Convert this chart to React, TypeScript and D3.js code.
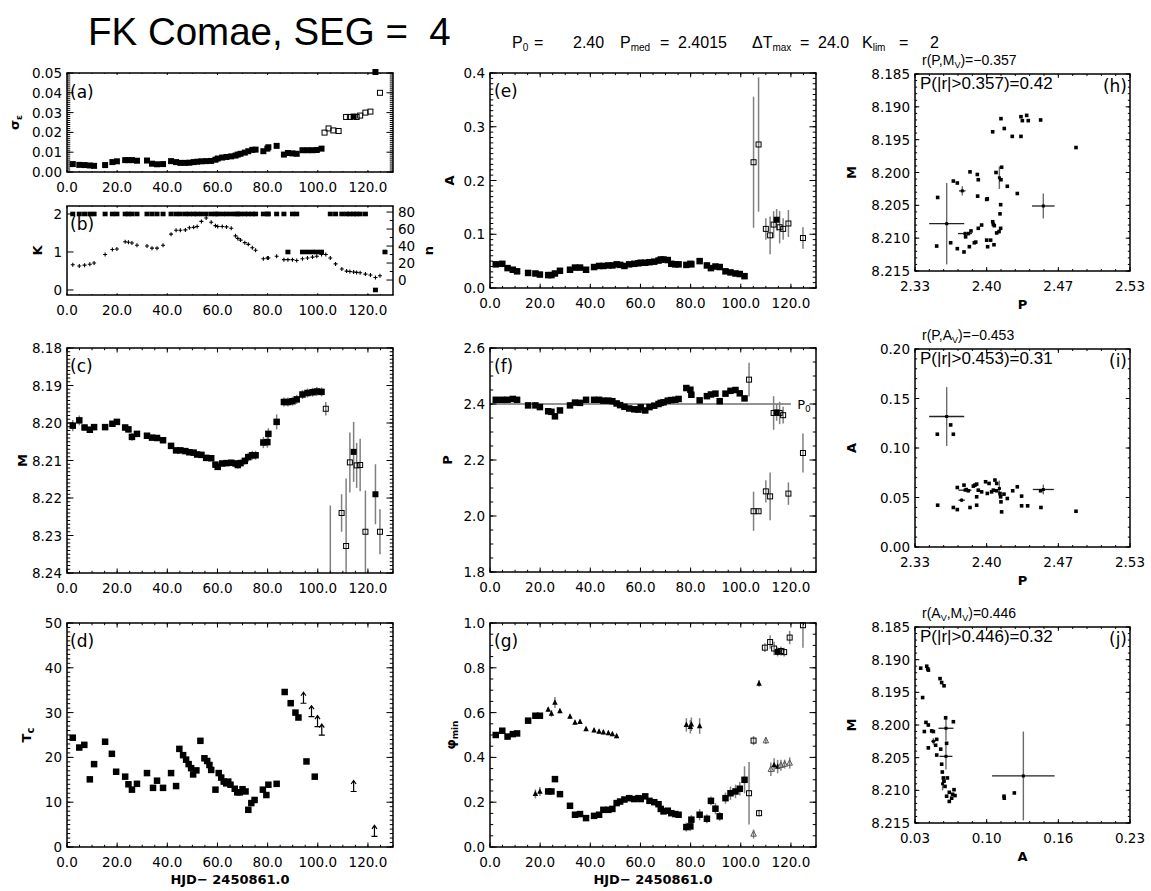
import React from "react";
import * as d3 from "d3";

// ---------------- data ----------------
const tMain = [2.3, 4.9, 7.0, 9.1, 10.8, 15.2, 18.1, 19.9, 23.2, 24.5, 25.9, 27.9, 31.9, 33.9, 35.9, 38.3, 41.5, 43.5, 45.2, 47.2, 48.8, 50.5, 51.9, 53.6, 55.5, 57.5, 59.2, 60.1, 61.9, 63.6, 65.5, 67.2, 68.1, 69.2, 70.9, 72.3, 73.9, 75.2, 78.3, 79.9, 80.3, 83.6, 86.5, 88.1, 89.9, 91.6, 93.9, 95.9, 97.9, 99.6, 101.5];

const sigmaMain = [0.0040, 0.0036, 0.0035, 0.0033, 0.0031, 0.0035, 0.0050, 0.0054, 0.0060, 0.0060, 0.0060, 0.0057, 0.0058, 0.0042, 0.0039, 0.0040, 0.0055, 0.0050, 0.0046, 0.0046, 0.0047, 0.0050, 0.0052, 0.0054, 0.0055, 0.0056, 0.0062, 0.0068, 0.0073, 0.0076, 0.0079, 0.0083, 0.0088, 0.0092, 0.0098, 0.0105, 0.0112, 0.0113, 0.0105, 0.0118, 0.0125, 0.0132, 0.0088, 0.0096, 0.0094, 0.0092, 0.0110, 0.0110, 0.0110, 0.0111, 0.0118];
// [t, sigma, filled]
const sigmaLate = [[102.7, 0.0199, 0], [104.3, 0.0220, 0], [106.2, 0.0210, 0], [108.3, 0.0207, 0], [111.3, 0.0278, 0], [112.8, 0.0278, 0], [114.3, 0.0280, 1], [115.5, 0.0278, 0], [116.9, 0.0285, 0], [119.0, 0.0300, 0], [121.0, 0.0305, 0], [123.0, 0.0505, 1], [124.8, 0.0400, 0]];

const kMain = [2, 2, 2, 2, 2, 2, 2, 2, 2, 2, 2, 2, 2, 2, 2, 2, 2, 2, 2, 2, 2, 2, 2, 2, 2, 2, 2, 2, 2, 2, 2, 2, 2, 2, 2, 2, 2, 2, 2, 2, 2, 2, 2, 1, 2, 2, 1, 1, 1, 1, 1];
const kLate = [[105.0, 2], [107.1, 2], [109.6, 2], [111.5, 2], [112.8, 2], [114.3, 2], [115.5, 2], [116.9, 2], [119.0, 2], [123.0, 0], [126.8, 1]];
const nMain = [18, 16.5, 17.5, 18.5, 20, 30, 36, 36.5, 45, 44.5, 43.5, 41, 40, 37.5, 37.5, 41, 54, 58.5, 58.5, 59, 61.5, 62, 63, 69, 73, 68, 64, 63, 63, 62.5, 61, 52, 49, 47, 44, 42, 38, 35, 25, 26, 26, 28, 24, 24, 24, 23, 25, 26, 27, 28, 30];
const nLate = [[103.2, 30], [105.0, 26], [107.1, 19], [109.6, 13], [111.5, 10.5], [112.8, 10], [114.3, 9.5], [115.5, 9], [116.9, 8.5], [119.0, 7], [121.0, 6], [123.0, 3], [124.8, 5]];

const mMain = [8.2007, 8.1993, 8.2012, 8.2018, 8.2011, 8.2011, 8.2002, 8.1997, 8.2012, 8.2017, 8.2037, 8.2029, 8.2034, 8.2039, 8.2040, 8.2046, 8.2061, 8.2073, 8.2073, 8.2075, 8.2078, 8.2079, 8.2084, 8.2085, 8.2093, 8.2094, 8.2111, 8.2117, 8.2108, 8.2107, 8.2106, 8.2108, 8.2112, 8.2107, 8.2101, 8.2091, 8.2086, 8.2086, 8.2052, 8.2051, 8.2029, 8.1997, 8.1944, 8.1944, 8.1942, 8.1937, 8.1924, 8.1920, 8.1918, 8.1916, 8.1917];
const mErr = [0.0015, 0.0013, 0.0008, 0.0008, 0.0008, 0.0007, 0.0007, 0.0007, 0.0008, 0.0008, 0.0010, 0.0008, 0.0006, 0.0006, 0.0006, 0.0006, 0.0005, 0.0005, 0.0005, 0.0005, 0.0005, 0.0005, 0.0005, 0.0005, 0.0005, 0.0005, 0.0006, 0.0006, 0.0006, 0.0006, 0.0008, 0.0008, 0.0010, 0.0010, 0.0010, 0.0012, 0.0012, 0.0012, 0.0015, 0.0015, 0.0015, 0.0020, 0.0012, 0.0012, 0.0012, 0.0012, 0.0012, 0.0012, 0.0012, 0.0012, 0.0012];
// [t, M, err, filled]
const mLate = [[103.2, 8.1962, 0.0018, 0], [105.0, 8.2500, 0.0280, 0], [109.5, 8.2240, 0.0050, 0], [111.3, 8.2328, 0.0180, 0], [112.8, 8.2105, 0.0080, 0], [114.3, 8.2077, 0.0080, 1], [115.5, 8.2113, 0.0060, 0], [116.9, 8.2112, 0.0070, 0], [119.0, 8.2290, 0.0110, 0], [123.0, 8.2190, 0.0080, 1], [124.8, 8.2290, 0.0060, 0]];

const tcT = [2.3, 4.9, 6.9, 9.1, 10.8, 15.2, 17.9, 19.6, 23.2, 24.5, 25.9, 27.9, 31.9, 34.3, 35.9, 38.3, 41.5, 43.5, 44.8, 46.3, 47.5, 48.5, 49.5, 50.3, 51.6, 53.2, 54.8, 55.9, 56.8, 57.5, 59.2, 60.5, 61.5, 62.5, 63.5, 64.3, 65.2, 66.9, 67.9, 68.9, 70.0, 71.2, 72.3, 73.5, 74.8, 78.1, 79.5, 80.3, 83.6, 86.8, 89.2, 91.1, 92.3, 95.5, 98.8];
const tcVal = [24.4, 22.2, 22.8, 15.1, 18.5, 23.5, 20.8, 16.8, 15.7, 14.0, 12.8, 14.1, 16.5, 13.2, 14.8, 13.2, 16.5, 13.6, 21.9, 20.5, 19.5, 18.5, 17.6, 16.2, 17.1, 23.7, 19.8, 19.2, 18.3, 17.2, 12.8, 16.5, 15.5, 14.6, 14.2, 14.6, 13.9, 13.0, 12.2, 12.2, 12.9, 12.4, 8.3, 9.8, 10.5, 12.8, 11.6, 13.9, 14.1, 34.6, 32.1, 30.0, 28.9, 19.1, 15.7];
const tcLimT = [94.3, 97.5, 99.9, 101.6, 114.3, 122.6];
const tcLimV = [33.2, 30.2, 28.0, 26.1, 13.5, 3.5];

const aMain = [0.044, 0.045, 0.037, 0.034, 0.031, 0.028, 0.027, 0.025, 0.024, 0.024, 0.027, 0.032, 0.034, 0.038, 0.038, 0.034, 0.039, 0.041, 0.041, 0.042, 0.042, 0.044, 0.043, 0.041, 0.044, 0.045, 0.046, 0.047, 0.047, 0.048, 0.049, 0.051, 0.053, 0.053, 0.052, 0.045, 0.044, 0.044, 0.043, 0.045, 0.044, 0.050, 0.042, 0.037, 0.040, 0.039, 0.031, 0.029, 0.027, 0.026, 0.022];
const aLate = [[105.1, 0.234, 0.122, 0], [107.1, 0.267, 0.125, 0], [110.0, 0.110, 0.020, 0], [111.7, 0.098, 0.035, 0], [113.1, 0.118, 0.025, 0], [114.3, 0.127, 0.020, 1], [115.5, 0.113, 0.030, 0], [116.9, 0.110, 0.020, 0], [119.0, 0.120, 0.025, 0], [124.8, 0.093, 0.020, 0]];

const pMain = [2.415, 2.415, 2.415, 2.418, 2.415, 2.395, 2.395, 2.389, 2.374, 2.372, 2.356, 2.377, 2.395, 2.405, 2.404, 2.415, 2.415, 2.415, 2.412, 2.412, 2.410, 2.402, 2.396, 2.390, 2.384, 2.381, 2.380, 2.388, 2.377, 2.389, 2.394, 2.400, 2.404, 2.406, 2.412, 2.414, 2.415, 2.418, 2.457, 2.451, 2.433, 2.413, 2.428, 2.434, 2.437, 2.410, 2.437, 2.447, 2.450, 2.438, 2.420];
const pLate = [[103.3, 2.487, 0.06, 0], [105.1, 2.017, 0.07, 0], [107.1, 2.017, 0.01, 0], [110.0, 2.088, 0.04, 0], [111.7, 2.070, 0.085, 0], [113.1, 2.368, 0.06, 0], [114.3, 2.370, 0.03, 1], [115.5, 2.368, 0.04, 0], [116.9, 2.360, 0.03, 0], [119.0, 2.080, 0.04, 0], [124.8, 2.225, 0.07, 0]];
const P0 = 2.40;

const phiMain = [0.500, 0.519, 0.493, 0.504, 0.507, 0.564, 0.586, 0.586, 0.248, 0.248, 0.303, 0.236, 0.184, 0.144, 0.147, 0.129, 0.139, 0.144, 0.166, 0.166, 0.170, 0.196, 0.203, 0.212, 0.218, 0.214, 0.218, 0.214, 0.226, 0.206, 0.200, 0.191, 0.170, 0.159, 0.162, 0.151, 0.147, 0.144, 0.089, 0.092, 0.122, 0.144, 0.126, 0.206, 0.171, 0.137, 0.218, 0.240, 0.248, 0.260, 0.300];
const phiErr = [0.005, 0.005, 0.005, 0.005, 0.005, 0.005, 0.005, 0.005, 0.01, 0.01, 0.01, 0.005, 0.005, 0.005, 0.005, 0.005, 0.005, 0.005, 0.005, 0.005, 0.005, 0.005, 0.005, 0.005, 0.005, 0.005, 0.005, 0.005, 0.005, 0.005, 0.005, 0.005, 0.005, 0.005, 0.01, 0.01, 0.01, 0.01, 0.02, 0.02, 0.02, 0.025, 0.02, 0.02, 0.025, 0.02, 0.025, 0.03, 0.03, 0.03, 0.06];
// secondary minimum: [t, phi, err, filled]
const phiTri = [[18.1, 0.237, 0.02, 1], [19.9, 0.248, 0.02, 1], [23.2, 0.614, 0.01, 1], [24.5, 0.596, 0.015, 1], [25.9, 0.645, 0.025, 1], [27.9, 0.607, 0.01, 1], [31.9, 0.582, 0.01, 1], [33.9, 0.556, 0.01, 1], [35.9, 0.559, 0.01, 1], [38.3, 0.527, 0.01, 1], [41.5, 0.521, 0.01, 1], [43.5, 0.515, 0.01, 1], [45.2, 0.512, 0.01, 1], [47.2, 0.509, 0.01, 1], [48.8, 0.504, 0.01, 1], [50.5, 0.495, 0.01, 1], [78.3, 0.545, 0.03, 1], [79.9, 0.537, 0.03, 1], [80.3, 0.548, 0.03, 1], [83.6, 0.540, 0.035, 1], [105.1, 0.058, 0.02, 0], [107.3, 0.730, 0.015, 1], [110.0, 0.475, 0.015, 0], [112.0, 0.347, 0.03, 0], [113.3, 0.366, 0.03, 1], [114.7, 0.359, 0.03, 1], [116.0, 0.365, 0.025, 0], [117.5, 0.370, 0.02, 0], [119.5, 0.375, 0.025, 0]];
const phiLate = [[103.3, 0.24, 0.14, 0], [105.1, 0.475, 0.02, 0], [107.3, 0.151, 0.015, 0], [109.6, 0.89, 0.02, 0], [111.7, 0.915, 0.03, 0], [113.3, 0.886, 0.03, 0], [114.7, 0.871, 0.02, 1], [116.0, 0.875, 0.02, 0], [117.3, 0.870, 0.02, 0], [119.5, 0.935, 0.03, 0], [124.8, 0.99, 0.1, 0]];

// scatter panels
const hPts = [[2.3544, 8.2038], [2.3535, 8.2112], [2.3690, 8.2013], [2.3727, 8.2016], [2.3665, 8.2107], [2.3727, 8.2116], [2.3789, 8.2121], [2.3804, 8.2098], [2.3829, 8.2093], [2.3839, 8.2113], [2.3854, 8.2089], [2.3885, 8.2107], [2.3898, 8.2106], [2.3845, 8.1999], [2.3913, 8.2003], [2.3922, 8.2011], [2.3922, 8.2085], [2.3953, 8.2080], [2.3916, 8.2036], [2.4000, 8.2041], [2.4006, 8.2040], [2.4000, 8.2103], [2.4037, 8.2103], [2.4009, 8.2113], [2.4068, 8.2110], [2.4056, 8.2075], [2.4062, 8.2079], [2.4071, 8.2081], [2.4093, 8.2092], [2.4115, 8.2090], [2.4130, 8.2085], [2.4124, 8.2063], [2.4130, 8.2049], [2.4087, 8.2000], [2.4133, 8.2011], [2.4139, 8.1992], [2.4192, 8.2021], [2.4285, 8.2032], [2.4056, 8.1938], [2.4133, 8.1918], [2.4164, 8.1933], [2.4238, 8.1945], [2.4319, 8.1945], [2.4319, 8.1915], [2.4332, 8.1921], [2.4372, 8.1913], [2.4387, 8.1921], [2.4502, 8.1920], [2.4831, 8.1962]];
const hCross = [[2.3628, 8.2078, 0.0163, 0.0062], [2.3773, 8.2028, 0.0030, 0.0007], [2.3798, 8.2093, 0.0065, 0.0003], [2.4118, 8.2008, 0.0010, 0.0017], [2.4527, 8.2051, 0.0105, 0.0019]];

const iPts = [[2.3544, 0.0422], [2.3541, 0.1139], [2.3665, 0.1233], [2.3690, 0.1139], [2.3690, 0.0399], [2.3727, 0.0378], [2.3727, 0.0601], [2.3789, 0.0625], [2.3810, 0.0580], [2.3829, 0.0568], [2.3845, 0.0399], [2.3876, 0.0615], [2.3891, 0.0625], [2.3907, 0.0635], [2.3907, 0.0507], [2.3907, 0.0422], [2.3922, 0.0574], [2.3953, 0.0557], [2.3990, 0.0659], [2.4022, 0.0642], [2.4006, 0.0541], [2.4046, 0.0557], [2.4062, 0.0574], [2.4077, 0.0676], [2.4093, 0.0642], [2.4093, 0.0568], [2.4124, 0.0541], [2.4130, 0.0507], [2.4133, 0.0456], [2.4139, 0.0355], [2.4161, 0.0534], [2.4192, 0.0490], [2.4242, 0.0568], [2.4285, 0.0608], [2.4325, 0.0514], [2.4325, 0.0416], [2.4381, 0.0416], [2.4502, 0.0568], [2.4505, 0.0399], [2.4831, 0.0361]];
const iCross = [[2.3628, 0.1318, 0.0163, 0.0297], [2.3767, 0.0473, 0.0030, 0.0020], [2.3798, 0.0574, 0.0060, 0.0010], [2.4118, 0.0591, 0.0010, 0.0080], [2.4527, 0.0581, 0.0098, 0.0050]];

const jPts = [[0.0353, 8.1913], [0.0371, 8.1958], [0.0409, 8.1910], [0.0418, 8.1914], [0.0425, 8.1916], [0.0387, 8.2010], [0.0402, 8.1996], [0.0424, 8.2000], [0.0424, 8.2035], [0.0455, 8.2009], [0.0471, 8.2010], [0.0492, 8.2031], [0.0502, 8.2022], [0.0502, 8.2046], [0.0533, 8.1929], [0.0548, 8.1935], [0.0570, 8.1940], [0.0539, 8.2037], [0.0548, 8.2060], [0.0554, 8.2072], [0.0564, 8.2081], [0.0570, 8.2086], [0.0579, 8.2094], [0.0585, 8.1989], [0.0594, 8.2028], [0.0601, 8.2081], [0.0594, 8.2109], [0.0619, 8.2103], [0.0641, 8.2112], [0.0650, 8.2106], [0.0663, 8.2099], [0.0672, 8.2108], [0.0657, 8.1995], [0.0619, 8.2117], [0.1128, 8.2109], [0.1130, 8.2112], [0.1224, 8.2104]];
const jCross = [[0.1308, 8.2078, 0.0291, 0.0068], [0.0471, 8.2025, 0.0020, 0.0005], [0.0557, 8.2090, 0.0010, 0.0010], [0.0588, 8.2005, 0.0070, 0.0019], [0.0588, 8.2048, 0.0060, 0.0020]];

const xMajorT = [0, 20, 40, 60, 80, 100, 120];
const corrText = [
  { r: "−0.357", p: "0.357", q: "0.42" },
  { r: "−0.453", p: "0.453", q: "0.31" },
  { r: "0.446", p: "0.446", q: "0.32" },
];

// ---------------- layout / helpers ----------------
const FONT = "'DejaVu Sans', Verdana, sans-serif";
const HEL = "'Liberation Sans', Arial, Helvetica, sans-serif";
const EC = "#808080";

type Box = { l: number; r: number; t: number; b: number };
const BOX: Record<string, Box> = {
  a: { l: 67, r: 393, t: 73, b: 172 },
  b: { l: 67, r: 393, t: 206, b: 295 },
  c: { l: 67, r: 393, t: 348, b: 573 },
  d: { l: 67, r: 393, t: 623, b: 847 },
  e: { l: 490, r: 816, t: 73, b: 288 },
  f: { l: 490, r: 816, t: 348, b: 572 },
  g: { l: 490, r: 816, t: 623, b: 847 },
  h: { l: 915, r: 1130, t: 74, b: 271 },
  i: { l: 915, r: 1130, t: 349, b: 547 },
  j: { l: 915, r: 1130, t: 627, b: 823 },
};

const steps = (a: number, b: number, n: number) => d3.range(n + 1).map((i) => a + ((b - a) * i) / n);

type Sc = d3.ScaleLinear<number, number>;

function Frame(props: {
  bx: Box; x: Sc; y: Sc; xMaj: number[]; xMin: number[]; yMaj: number[]; yMin: number[];
  xFmt: (v: number) => string; yFmt: (v: number) => string; rightTicks?: boolean;
}) {
  const { bx, x, y, xMaj, xMin, yMaj, yMin, xFmt, yFmt } = props;
  const rightTicks = props.rightTicks !== false;
  const tx = 0.02 * (bx.b - bx.t);
  const ty = 0.02 * (bx.r - bx.l);
  let d = "";
  const vt = (v: number, len: number) => {
    const px = x(v);
    d += `M${px},${bx.b}v${-len}M${px},${bx.t}v${len}`;
  };
  const ht = (v: number, len: number) => {
    const py = y(v);
    d += `M${bx.l},${py}h${len}`;
    if (rightTicks) d += `M${bx.r},${py}h${-len}`;
  };
  xMaj.forEach((v) => vt(v, tx));
  xMin.forEach((v) => vt(v, tx / 2));
  yMaj.forEach((v) => ht(v, ty));
  yMin.forEach((v) => ht(v, ty / 2));
  return (
    <g>
      <path d={d} stroke="#000" strokeWidth={1} fill="none" />
      <rect x={bx.l} y={bx.t} width={bx.r - bx.l} height={bx.b - bx.t} fill="none" stroke="#000" strokeWidth={1.5} />
      {xMaj.map((v, i) => (
        <text key={"xl" + i} x={x(v)} y={bx.b + 20} textAnchor="middle" fontFamily={FONT} fontSize={13.5}>{xFmt(v)}</text>
      ))}
      {yMaj.map((v, i) => (
        <text key={"yl" + i} x={bx.l - 5} y={y(v) + 5} textAnchor="end" fontFamily={FONT} fontSize={13.5}>{yFmt(v)}</text>
      ))}
    </g>
  );
}

const Sq = ({ cx, cy, s, filled }: { cx: number; cy: number; s: number; filled: boolean }) =>
  filled ? (
    <rect x={cx - s / 2} y={cy - s / 2} width={s} height={s} fill="#000" />
  ) : (
    <rect x={cx - s / 2 + 0.5} y={cy - s / 2 + 0.5} width={s - 1} height={s - 1} fill="none" stroke="#000" strokeWidth={1} />
  );

const Tri = ({ cx, cy, s, filled }: { cx: number; cy: number; s: number; filled: boolean }) => (
  <path d={`M${cx},${cy - s * 0.6}L${cx + s / 2},${cy + s * 0.4}L${cx - s / 2},${cy + s * 0.4}Z`} fill={filled ? "#000" : "none"} stroke={filled ? "none" : "#555"} strokeWidth={1} />
);

const ErrV = ({ cx, y1, y2, c }: { cx: number; y1: number; y2: number; c?: string }) => (
  <line x1={cx} x2={cx} y1={y1} y2={y2} stroke={c || EC} strokeWidth={1.5} />
);

const Clip = ({ id, bx }: { id: string; bx: Box }) => (
  <clipPath id={id}>
    <rect x={bx.l} y={bx.t} width={bx.r - bx.l} height={bx.b - bx.t} />
  </clipPath>
);

const YTitle = ({ x, y, children }: { x: number; y: number; children: any }) => (
  <text transform={`translate(${x},${y}) rotate(-90)`} textAnchor="middle" fontFamily={FONT} fontWeight="bold" fontSize={13}>{children}</text>
);

const PanelTag = ({ x, y, s, end }: { x: number; y: number; s: string; end?: boolean }) => (
  <text x={x} y={y} fontFamily={FONT} fontSize={17} textAnchor={end ? "end" : "start"}>{s}</text>
);

// ---------------- app ----------------
export default function App() {
  const f1 = d3.format(".1f");
  const f2 = d3.format(".2f");
  const f3 = d3.format(".3f");
  const fd = d3.format("d");

  const xL = d3.scaleLinear().domain([0, 130]).range([BOX.a.l, BOX.a.r]);
  const xM = d3.scaleLinear().domain([0, 130]).range([BOX.e.l, BOX.e.r]);
  const xMinorT = d3.range(0, 130.001, 5);

  const ya = d3.scaleLinear().domain([0, 0.05]).range([BOX.a.b, BOX.a.t]);
  const yK = d3.scaleLinear().domain([-0.132, 2.21]).range([BOX.b.b, BOX.b.t]);
  const yN = d3.scaleLinear().domain([-17.6, 87.1]).range([BOX.b.b, BOX.b.t]);
  const yc = d3.scaleLinear().domain([8.18, 8.24]).range([BOX.c.t, BOX.c.b]);
  const yd = d3.scaleLinear().domain([0, 50]).range([BOX.d.b, BOX.d.t]);
  const ye = d3.scaleLinear().domain([0, 0.4]).range([BOX.e.b, BOX.e.t]);
  const yf = d3.scaleLinear().domain([1.8, 2.6]).range([BOX.f.b, BOX.f.t]);
  const yg = d3.scaleLinear().domain([0, 1]).range([BOX.g.b, BOX.g.t]);

  const pLo = 2.33333, pHi = 2.53333;
  const xh = d3.scaleLinear().domain([pLo, pHi]).range([BOX.h.l, BOX.h.r]);
  const yh = d3.scaleLinear().domain([8.185, 8.215]).range([BOX.h.t, BOX.h.b]);
  const xi = d3.scaleLinear().domain([pLo, pHi]).range([BOX.i.l, BOX.i.r]);
  const yi = d3.scaleLinear().domain([0, 0.2]).range([BOX.i.b, BOX.i.t]);
  const xj = d3.scaleLinear().domain([0.03, 0.23]).range([BOX.j.l, BOX.j.r]);
  const yj = d3.scaleLinear().domain([8.185, 8.215]).range([BOX.j.t, BOX.j.b]);

  const S = 6.5;

  // ---------- Panel (b) right axis ----------
  const bx = BOX.b;
  const nTy = 0.02 * (bx.r - bx.l);
  let nTicks = "";
  [0, 20, 40, 60, 80].forEach((v) => (nTicks += `M${bx.r},${yN(v)}h${-nTy}`));
  [10, 30, 50, 70].forEach((v) => (nTicks += `M${bx.r},${yN(v)}h${-nTy / 2}`));

  const plus = (cx: number, cy: number, k: string) => (
    <path key={k} d={`M${cx - 2},${cy}h4M${cx},${cy - 2}v4`} stroke="#000" strokeWidth={1.1} />
  );

  const arrow = (cx: number, cy: number, k: string) => (
    <path key={k} d={`M${cx - 3},${cy + 5}h6M${cx},${cy + 5}V${cy - 6}M${cx - 2.5},${cy - 2.5}L${cx},${cy - 6}L${cx + 2.5},${cy - 2.5}`} stroke="#000" strokeWidth={1.2} fill="none" />
  );

  const scatterPanel = (
    key: string, bxx: Box, xs: Sc, ys: Sc, pts: number[][], cross: number[][],
    xMaj: number[], xMin: number[], yMaj: number[], yMin: number[], yFmt: (v: number) => string,
    ct: { r: string; p: string; q: string }, title: React.ReactNode, yLab: string, xLab: string, tag: string
  ) => (
    <g key={key}>
      <Clip id={"clip" + key} bx={bxx} />
      <g clipPath={`url(#clip${key})`}>
        {cross.map((c, i) => (
          <g key={"c" + i}>
            <line x1={xs(c[0])} x2={xs(c[0])} y1={ys(c[1] - c[3])} y2={ys(c[1] + c[3])} stroke="#6a6a6a" strokeWidth={1.4} />
            <line x1={xs(c[0] - c[2])} x2={xs(c[0] + c[2])} y1={ys(c[1])} y2={ys(c[1])} stroke="#222" strokeWidth={1.3} />
          </g>
        ))}
      </g>
      {pts.map((p, i) => (
        <rect key={"p" + i} x={xs(p[0]) - 1.8} y={ys(p[1]) - 1.8} width={3.6} height={3.6} fill="#000" />
      ))}
      {cross.map((c, i) => (
        <rect key={"cp" + i} x={xs(c[0]) - 1.5} y={ys(c[1]) - 1.5} width={3} height={3} fill="#000" />
      ))}
      <Frame bx={bxx} x={xs} y={ys} xMaj={xMaj} xMin={xMin} yMaj={yMaj} yMin={yMin} xFmt={f2} yFmt={yFmt} />
      <text x={922} y={bxx.t - 9} fontFamily={HEL} fontSize={14}>{title}</text>
      <text x={920} y={bxx.t + 15} fontFamily={HEL} fontSize={17}>{`P(|r|>${ct.p})=${ct.q}`}</text>
      <PanelTag x={bxx.r - 3} y={bxx.t + 18} s={tag} end />
      <YTitle x={856} y={(bxx.t + bxx.b) / 2}>{yLab}</YTitle>
      <text x={(bxx.l + bxx.r) / 2} y={bxx.b + 38} textAnchor="middle" fontFamily={FONT} fontWeight="bold" fontSize={13}>{xLab}</text>
    </g>
  );

  const pMaj = steps(pLo, pHi, 3);
  const pMin = steps(pLo, pHi, 15);
  const aMajJ = steps(0.03, 0.23, 3);
  const aMinJ = steps(0.03, 0.23, 15);
  const mMajR = d3.range(8.185, 8.2151, 0.005);
  const mMinR = d3.range(8.185, 8.2151, 0.001);

  return (
    <svg width={1151} height={891} style={{ position: "absolute", left: 0, top: 0, background: "#fff" }}>
      <rect x={0} y={0} width={1151} height={891} fill="#fff" />

      {/* header */}
      <text x={88} y={45} fontFamily={HEL} fontSize={38.5} style={{ whiteSpace: "pre" }}>{"FK Comae, SEG =  4"}</text>
      <g fontFamily={HEL} fontSize={16}>
        <text x={512} y={48}>P<tspan dy={3} fontSize={10}>0</tspan></text>
        <text x={534} y={48}>=</text>
        <text x={573} y={48}>2.40</text>
        <text x={620} y={48}>P<tspan dy={3} fontSize={10}>med</tspan></text>
        <text x={660} y={48}>=</text>
        <text x={678} y={48}>2.4015</text>
        <text x={752} y={48}>ΔT<tspan dy={3} fontSize={10}>max</tspan></text>
        <text x={800} y={48}>=</text>
        <text x={818} y={48}>24.0</text>
        <text x={862} y={48}>K<tspan dy={3} fontSize={10}>lim</tspan></text>
        <text x={899} y={48}>=</text>
        <text x={930} y={48}>2</text>
      </g>

      {/* (a) */}
      <g>
        {tMain.map((t, i) => <Sq key={"a" + i} cx={xL(t)} cy={ya(sigmaMain[i])} s={6} filled />)}
        {sigmaLate.map((p, i) => <Sq key={"al" + i} cx={xL(p[0])} cy={ya(p[1])} s={6} filled={!!p[2]} />)}
        <Frame bx={BOX.a} x={xL} y={ya} xMaj={xMajorT} xMin={xMinorT} yMaj={d3.range(0, 0.0501, 0.01)} yMin={d3.range(0, 0.0501, 0.001)} xFmt={f1} yFmt={f2} />
        <PanelTag x={70} y={BOX.a.t + 25} s="(a)" />
        <YTitle x={19} y={(BOX.a.t + BOX.a.b) / 2}>σ<tspan dy={3} fontSize={9}>ε</tspan></YTitle>
      </g>

      {/* (b) */}
      <g>
        {tMain.map((t, i) => <rect key={"k" + i} x={xL(t) - 2.5} y={yK(kMain[i]) - 2.3} width={5} height={4.6} fill="#000" />)}
        {kLate.map((p, i) => <rect key={"kl" + i} x={xL(p[0]) - 2.5} y={yK(p[1]) - 2.3} width={5} height={4.6} fill="#000" />)}
        {tMain.map((t, i) => plus(xL(t), yN(nMain[i]), "n" + i))}
        {nLate.map((p, i) => plus(xL(p[0]), yN(p[1]), "nl" + i))}
        <Frame bx={BOX.b} x={xL} y={yK} xMaj={xMajorT} xMin={xMinorT} yMaj={[0, 1, 2]} yMin={[]} xFmt={f1} yFmt={fd} rightTicks={false} />
        <path d={nTicks} stroke="#000" strokeWidth={1} />
        {[0, 20, 40, 60, 80].map((v) => (
          <text key={"nl" + v} x={bx.r + 5} y={yN(v) + 5} fontFamily={FONT} fontSize={13.5}>{fd(v)}</text>
        ))}
        <PanelTag x={70} y={BOX.b.t + 24} s="(b)" />
        <YTitle x={42} y={(BOX.b.t + BOX.b.b) / 2}>K</YTitle>
        <YTitle x={433} y={(BOX.b.t + BOX.b.b) / 2}>n</YTitle>
      </g>

      {/* (c) */}
      <g>
        <Clip id="clipc" bx={BOX.c} />
        <g clipPath="url(#clipc)">
          {tMain.map((t, i) => <ErrV key={"ce" + i} cx={xL(t)} y1={yc(mMain[i] - mErr[i])} y2={yc(mMain[i] + mErr[i])} />)}
          {mLate.map((p, i) => <ErrV key={"cle" + i} cx={xL(p[0])} y1={yc(p[1] - p[2])} y2={yc(p[1] + p[2])} />)}
        </g>
        {tMain.map((t, i) => <Sq key={"c" + i} cx={xL(t)} cy={yc(mMain[i])} s={S} filled />)}
        {mLate.filter((p) => p[1] <= 8.24).map((p, i) => <Sq key={"cl" + i} cx={xL(p[0])} cy={yc(p[1])} s={6} filled={!!p[3]} />)}
        <Frame bx={BOX.c} x={xL} y={yc} xMaj={xMajorT} xMin={xMinorT} yMaj={d3.range(8.18, 8.2401, 0.01)} yMin={d3.range(8.18, 8.2401, 0.001)} xFmt={f1} yFmt={f2} />
        <PanelTag x={70} y={BOX.c.t + 24} s="(c)" />
        <YTitle x={27} y={(BOX.c.t + BOX.c.b) / 2}>M</YTitle>
      </g>

      {/* (d) */}
      <g>
        {tcT.map((t, i) => <Sq key={"d" + i} cx={xL(t)} cy={yd(tcVal[i])} s={S} filled />)}
        {tcLimT.map((t, i) => arrow(xL(t), yd(tcLimV[i]), "da" + i))}
        <Frame bx={BOX.d} x={xL} y={yd} xMaj={xMajorT} xMin={xMinorT} yMaj={d3.range(0, 50.1, 10)} yMin={d3.range(0, 50.1, 1)} xFmt={f1} yFmt={fd} />
        <PanelTag x={70} y={BOX.d.t + 24} s="(d)" />
        <YTitle x={31} y={(BOX.d.t + BOX.d.b) / 2}>T<tspan dy={3} fontSize={10}>c</tspan></YTitle>
        <text x={(BOX.d.l + BOX.d.r) / 2} y={884} textAnchor="middle" fontFamily={FONT} fontWeight="bold" fontSize={13}>HJD− 2450861.0</text>
      </g>

      {/* (e) */}
      <g>
        <Clip id="clipe" bx={BOX.e} />
        <g clipPath="url(#clipe)">
          {aLate.map((p, i) => <ErrV key={"ee" + i} cx={xM(p[0])} y1={ye(p[1] - p[2])} y2={ye(p[1] + p[2])} />)}
        </g>
        {tMain.map((t, i) => <Sq key={"e" + i} cx={xM(t)} cy={ye(aMain[i])} s={S} filled />)}
        {aLate.map((p, i) => <Sq key={"el" + i} cx={xM(p[0])} cy={ye(p[1])} s={6} filled={!!p[3]} />)}
        <Frame bx={BOX.e} x={xM} y={ye} xMaj={xMajorT} xMin={xMinorT} yMaj={d3.range(0, 0.401, 0.1)} yMin={d3.range(0, 0.401, 0.01)} xFmt={f1} yFmt={f1} />
        <PanelTag x={494} y={BOX.e.t + 24} s="(e)" />
        <YTitle x={454} y={(BOX.e.t + BOX.e.b) / 2}>A</YTitle>
      </g>

      {/* (f) */}
      <g>
        <line x1={xM(0)} x2={xM(120)} y1={yf(P0)} y2={yf(P0)} stroke="#707070" strokeWidth={1.5} />
        <text x={xM(122.5)} y={yf(P0) + 5} fontFamily={FONT} fontSize={13}>P<tspan dy={3} fontSize={9}>0</tspan></text>
        <Clip id="clipf" bx={BOX.f} />
        <g clipPath="url(#clipf)">
          {pLate.map((p, i) => <ErrV key={"fe" + i} cx={xM(p[0])} y1={yf(p[1] - p[2])} y2={yf(p[1] + p[2])} />)}
        </g>
        {tMain.map((t, i) => <Sq key={"f" + i} cx={xM(t)} cy={yf(pMain[i])} s={S} filled />)}
        {pLate.map((p, i) => <Sq key={"fl" + i} cx={xM(p[0])} cy={yf(p[1])} s={6} filled={!!p[3]} />)}
        <Frame bx={BOX.f} x={xM} y={yf} xMaj={xMajorT} xMin={xMinorT} yMaj={d3.range(1.8, 2.601, 0.2)} yMin={d3.range(1.8, 2.601, 0.05)} xFmt={f1} yFmt={f1} />
        <PanelTag x={494} y={BOX.f.t + 24} s="(f)" />
        <YTitle x={452} y={(BOX.f.t + BOX.f.b) / 2}>P</YTitle>
      </g>

      {/* (g) */}
      <g>
        <Clip id="clipg" bx={BOX.g} />
        <g clipPath="url(#clipg)">
          {tMain.map((t, i) => <ErrV key={"ge" + i} cx={xM(t)} y1={yg(phiMain[i] - phiErr[i])} y2={yg(phiMain[i] + phiErr[i])} />)}
          {phiTri.map((p, i) => <ErrV key={"gte" + i} cx={xM(p[0])} y1={yg(p[1] - p[2])} y2={yg(p[1] + p[2])} />)}
          {phiLate.map((p, i) => <ErrV key={"gle" + i} cx={xM(p[0])} y1={yg(p[1] - p[2])} y2={yg(p[1] + p[2])} />)}
        </g>
        {tMain.map((t, i) => <Sq key={"g" + i} cx={xM(t)} cy={yg(phiMain[i])} s={S} filled />)}
        {phiTri.map((p, i) => <Tri key={"gt" + i} cx={xM(p[0])} cy={yg(p[1])} s={5.5} filled={!!p[3]} />)}
        {phiLate.map((p, i) => <Sq key={"gl" + i} cx={xM(p[0])} cy={yg(p[1])} s={6} filled={!!p[3]} />)}
        <Frame bx={BOX.g} x={xM} y={yg} xMaj={xMajorT} xMin={xMinorT} yMaj={d3.range(0, 1.001, 0.2)} yMin={d3.range(0, 1.001, 0.05)} xFmt={f1} yFmt={f1} />
        <PanelTag x={494} y={BOX.g.t + 24} s="(g)" />
        <YTitle x={455} y={(BOX.g.t + BOX.g.b) / 2}>φ<tspan dy={3} fontSize={9}>min</tspan></YTitle>
        <text x={(BOX.g.l + BOX.g.r) / 2} y={884} textAnchor="middle" fontFamily={FONT} fontWeight="bold" fontSize={13}>HJD− 2450861.0</text>
      </g>

      {/* (h) (i) (j) */}
      {scatterPanel("h", BOX.h, xh, yh, hPts, hCross, pMaj, pMin, mMajR, mMinR, f3, corrText[0],
        <>r(P,M<tspan dy={3} fontSize={9}>V</tspan><tspan dy={-3}>)={corrText[0].r}</tspan></>, "M", "P", "(h)")}
      {scatterPanel("i", BOX.i, xi, yi, iPts, iCross, pMaj, pMin, d3.range(0, 0.2001, 0.05), d3.range(0, 0.2001, 0.01), f2, corrText[1],
        <>r(P,A<tspan dy={3} fontSize={9}>V</tspan><tspan dy={-3}>)={corrText[1].r}</tspan></>, "A", "P", "(i)")}
      {scatterPanel("j", BOX.j, xj, yj, jPts, jCross, aMajJ, aMinJ, mMajR, mMinR, f3, corrText[2],
        <>r(A<tspan dy={3} fontSize={9}>V</tspan><tspan dy={-3}>,M</tspan><tspan dy={3} fontSize={9}>V</tspan><tspan dy={-3}>)={corrText[2].r}</tspan></>, "M", "A", "(j)")}
    </svg>
  );
}
